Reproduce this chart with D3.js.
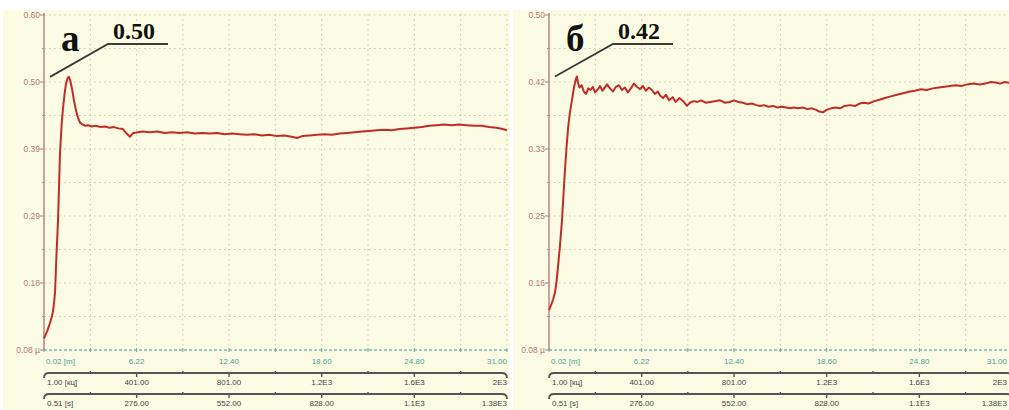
<!DOCTYPE html>
<html>
<head>
<meta charset="utf-8">
<script src="https://cdn.jsdelivr.net/npm/d3@7"></script>
<style>
  html, body { margin: 0; padding: 0; background: #fff; overflow: hidden; }
</style>
</head>
<body>
<svg id="chart" width="1009" height="410"></svg>
<script>
// Friction coefficient versus sliding distance for two specimens (а, б)

// specimen а: distance [m] and friction coefficient
const distA = [0.02, 0.09, 0.25, 0.42, 0.55, 0.62, 0.70, 0.76, 0.85, 0.96, 1.09, 1.20, 1.29, 1.40, 1.49, 1.60, 1.69, 1.78, 1.89, 2.02, 2.16, 2.30, 2.43, 2.60, 2.80, 2.96, 3.2, 3.5, 3.8, 4.1, 4.4, 4.7, 5.0, 5.3, 5.55, 5.77, 6.0, 6.3, 6.6, 7.1, 7.6, 8.1, 8.6, 9.1, 9.6, 10.1, 10.6, 11.1, 11.6, 12.1, 12.6, 13.1, 13.6, 14.1, 14.6, 15.1, 15.6, 16.1, 16.6, 16.95, 17.3, 17.8, 18.3, 18.8, 19.3, 19.8, 20.3, 20.8, 21.3, 21.8, 22.3, 22.8, 23.3, 23.8, 24.3, 24.8, 25.3, 25.8, 26.3, 26.8, 27.3, 27.8, 28.3, 28.8, 29.3, 29.8, 30.3, 30.7, 31.0];
const muA = [0.098, 0.102, 0.110, 0.122, 0.132, 0.140, 0.155, 0.170, 0.225, 0.282, 0.385, 0.430, 0.455, 0.478, 0.493, 0.502, 0.504, 0.498, 0.486, 0.468, 0.452, 0.440, 0.433, 0.430, 0.428, 0.429, 0.427, 0.428, 0.426, 0.427, 0.425, 0.426, 0.424, 0.423, 0.416, 0.411, 0.417, 0.418, 0.419, 0.418, 0.419, 0.417, 0.418, 0.417, 0.418, 0.416, 0.417, 0.416, 0.417, 0.415, 0.416, 0.415, 0.414, 0.415, 0.413, 0.414, 0.412, 0.413, 0.411, 0.409, 0.412, 0.413, 0.414, 0.415, 0.414, 0.416, 0.417, 0.418, 0.419, 0.420, 0.421, 0.422, 0.421, 0.423, 0.424, 0.425, 0.426, 0.428, 0.429, 0.430, 0.429, 0.430, 0.429, 0.428, 0.428, 0.426, 0.425, 0.423, 0.421];

// specimen б
const distB = [0.02, 0.15, 0.29, 0.42, 0.52, 0.62, 0.75, 0.89, 0.99, 1.09, 1.19, 1.29, 1.42, 1.56, 1.70, 1.82, 1.89, 1.96, 2.05, 2.2, 2.35, 2.5, 2.65, 2.8, 2.95, 3.1, 3.3, 3.43, 3.6, 3.75, 3.9, 4.1, 4.3, 4.5, 4.7, 4.9, 5.1, 5.3, 5.5, 5.7, 5.9, 6.11, 6.3, 6.5, 6.7, 6.9, 7.1, 7.3, 7.45, 7.65, 7.85, 8.05, 8.3, 8.5, 8.75, 9.0, 9.25, 9.45, 9.7, 9.95, 10.2, 10.5, 10.8, 11.1, 11.46, 11.8, 12.1, 12.4, 12.7, 13.0, 13.3, 13.6, 13.9, 14.14, 14.4, 14.7, 15.0, 15.3, 15.6, 15.9, 16.15, 16.4, 16.7, 17.0, 17.3, 17.6, 17.9, 18.1, 18.35, 18.6, 18.9, 19.2, 19.5, 19.8, 20.16, 20.5, 20.8, 21.1, 21.4, 21.8, 22.17, 22.5, 22.9, 23.3, 23.7, 24.17, 24.5, 24.9, 25.3, 25.7, 26.1, 26.5, 26.85, 27.2, 27.6, 28.0, 28.4, 28.86, 29.2, 29.6, 30.0, 30.2, 30.5, 30.8, 31.0];
const muB = [0.130, 0.136, 0.143, 0.152, 0.165, 0.184, 0.210, 0.243, 0.275, 0.306, 0.333, 0.357, 0.378, 0.394, 0.410, 0.420, 0.423,
  0.415, 0.409, 0.412, 0.404, 0.401, 0.408, 0.406, 0.410, 0.403, 0.407, 0.411, 0.405, 0.409, 0.413, 0.408, 0.404, 0.410, 0.412, 0.406, 0.409, 0.403, 0.408, 0.414, 0.410, 0.407, 0.411, 0.405, 0.409, 0.406, 0.401, 0.404,
  0.399, 0.396, 0.400, 0.393, 0.397, 0.391, 0.396, 0.392, 0.386, 0.390,
  0.392, 0.391, 0.393, 0.390, 0.391, 0.392, 0.393, 0.390, 0.391, 0.393, 0.391, 0.390, 0.388, 0.389, 0.387, 0.386, 0.387, 0.385, 0.386, 0.384, 0.385, 0.384, 0.383, 0.384, 0.383, 0.384, 0.382, 0.383, 0.381, 0.379, 0.378,
  0.381, 0.383, 0.384, 0.383, 0.386, 0.387, 0.386, 0.389, 0.390, 0.389, 0.392, 0.394, 0.396, 0.398, 0.400, 0.402, 0.404, 0.405, 0.407, 0.406, 0.408, 0.409, 0.410, 0.411, 0.412, 0.411, 0.413, 0.414, 0.413, 0.414, 0.416, 0.415, 0.414, 0.416, 0.415, 0.415];

// friction axis ranges and tick labels
const muDomainA = [0.08, 0.60];
const muDomainB = [0.08, 0.50];
const muLabelsA = ["0.08 µ", "0.18", "0.29", "0.39", "0.50", "0.60"];
const muLabelsB = ["0.08 µ", "0.16", "0.25", "0.33", "0.42", "0.50"];

// the three stacked horizontal scales: distance, laps, time
const distTicks  = [0.02, 6.22, 12.40, 18.60, 24.80, 31.00];
const distLabels = ["0.02 [m]", "6.22", "12.40", "18.60", "24.80", "31.00"];
const lapLabels  = ["1.00 [кц]", "401.00", "801.00", "1.2E3", "1.6E3", "2E3"];
const timeLabels = ["0.51 [s]", "276.00", "552.00", "828.00", "1.1E3", "1.38E3"];

const panelNames = ["а", "б"];

const SANS = "Arial, 'Liberation Sans', sans-serif";
const SERIF = "'Liberation Serif', 'Times New Roman', serif";
const W = 1009;

const svg = d3.select("#chart");

const panels = [
  { dist: distA, mu: muA, dom: muDomainA, labels: muLabelsA, name: panelNames[0],
    bg: [3, 510], x0: 44, x1: 507 },
  { dist: distB, mu: muB, dom: muDomainB, labels: muLabelsB, name: panelNames[1],
    bg: [513, 1009], x0: 549, x1: 1012 }
];

const yTop = 15, yBot = 350;

panels.forEach(p => {
  const g = svg.append("g");

  g.append("rect")
    .attr("x", p.bg[0]).attr("y", 10)
    .attr("width", p.bg[1] - p.bg[0]).attr("height", 400)
    .attr("fill", "#fcfce4");

  const x = d3.scaleLinear().domain([distTicks[0], distTicks[distTicks.length - 1]]).range([p.x0, p.x1]);
  const y = d3.scaleLinear().domain(p.dom).range([yBot, yTop]);

  const nY = p.labels.length - 1;
  const yStep = (p.dom[1] - p.dom[0]) / nY;
  const yMajor = d3.range(nY + 1).map(i => p.dom[0] + i * yStep);
  const yGrid = d3.range(2 * nY + 1).map(i => p.dom[0] + i * yStep / 2);
  const xGrid = d3.range(2 * (distTicks.length - 1) + 1).map(i => {
    const a = distTicks[Math.floor(i / 2)];
    const b = distTicks[Math.min(Math.ceil(i / 2), distTicks.length - 1)];
    return (a + b) / 2;
  });

  // dotted grid
  g.append("g").selectAll("line").data(yGrid.slice(1)).join("line")
    .attr("x1", p.x0).attr("x2", p.x1)
    .attr("y1", d => y(d)).attr("y2", d => y(d))
    .attr("stroke", "#c9cbb6").attr("stroke-width", 1.1).attr("stroke-dasharray", "1.6,3.4");
  g.append("g").selectAll("line").data(xGrid.slice(1)).join("line")
    .attr("x1", d => x(d)).attr("x2", d => x(d))
    .attr("y1", yTop - 1).attr("y2", yBot)
    .attr("stroke", "#c9cbb6").attr("stroke-width", 1.1).attr("stroke-dasharray", "1.6,3.4");

  // friction axis
  g.append("line")
    .attr("x1", p.x0).attr("x2", p.x0).attr("y1", yTop - 2).attr("y2", yBot)
    .attr("stroke", "#bf8c8c").attr("stroke-width", 1.6);
  g.append("g").selectAll("line").data(yGrid).join("line")
    .attr("x1", (d, i) => p.x0 - (i % 2 ? 2 : 4)).attr("x2", p.x0)
    .attr("y1", d => y(d)).attr("y2", d => y(d))
    .attr("stroke", "#bf8c8c").attr("stroke-width", 1.2);
  g.append("g").selectAll("text").data(yMajor).join("text")
    .attr("x", p.x0 - 4).attr("y", d => y(d) + 3)
    .attr("text-anchor", "end").attr("font-size", 8.5).attr("fill", "#b57a78")
    .attr("font-family", SANS)
    .text((d, i) => p.labels[i]);

  // distance axis
  g.append("line")
    .attr("x1", p.x0).attr("x2", p.x1).attr("y1", yBot).attr("y2", yBot)
    .attr("stroke", "#7fb8ae").attr("stroke-width", 1.3).attr("stroke-dasharray", "3,2");
  g.append("g").selectAll("line").data(xGrid).join("line")
    .attr("x1", d => x(d)).attr("x2", d => x(d))
    .attr("y1", yBot - 2).attr("y2", yBot + 2)
    .attr("stroke", "#6aa89e").attr("stroke-width", 1);

  const last = distTicks.length - 1;
  const anchorFor = i => i === 0 ? "start" : (i === last ? "end" : "middle");
  const labelX = (d, i) => i === 0 ? x(d) + 2 : (i === last ? Math.min(x(d), W - 2) : x(d));

  g.append("g").selectAll("text").data(distTicks).join("text")
    .attr("x", labelX).attr("y", yBot + 14)
    .attr("text-anchor", (d, i) => anchorFor(i))
    .attr("font-size", 8).attr("fill", "#4f9e93").attr("font-family", SANS)
    .text((d, i) => distLabels[i]);

  // laps and time scales share the distance tick positions
  [[lapLabels, 373], [timeLabels, 394]].forEach(([labels, ly]) => {
    const a = g.append("g");
    a.append("path")
      .attr("d", `M${p.x0},${ly + 5} Q${p.x0},${ly} ${p.x0 + 5},${ly} L${p.x1 - 5},${ly} Q${p.x1},${ly} ${p.x1},${ly + 5}`)
      .attr("fill", "none").attr("stroke", "#555").attr("stroke-width", 1.8);
    a.selectAll("line").data(xGrid.slice(1, -1)).join("line")
      .attr("x1", d => x(d)).attr("x2", d => x(d))
      .attr("y1", (d, i) => i % 2 ? ly : ly - 2)
      .attr("y2", (d, i) => i % 2 ? ly + 4 : ly)
      .attr("stroke", "#555").attr("stroke-width", 1.4);
    a.selectAll("text").data(distTicks).join("text")
      .attr("x", (d, i) => labelX(d, i) + (i === 0 ? 1 : 0)).attr("y", ly + 12)
      .attr("text-anchor", (d, i) => anchorFor(i))
      .attr("font-size", 8).attr("fill", "#444").attr("font-family", SANS)
      .text((d, i) => labels[i]);
  });

  // friction curve
  const pts = p.dist.map((d, i) => [d, p.mu[i]]);
  g.append("path").datum(pts)
    .attr("fill", "none").attr("stroke", "#c22c26").attr("stroke-width", 2)
    .attr("stroke-linejoin", "round")
    .attr("d", d3.line().x(d => x(d[0])).y(d => y(d[1])));

  // peak call-out
  const peak = d3.max(p.mu);
  const py = y(peak);
  const sx = p.x0 + 6;
  const kx = p.x0 + 64;
  const ky = 44;
  g.append("path")
    .attr("d", `M${sx},${py} L${kx},${ky} L${kx + 60},${ky}`)
    .attr("fill", "none").attr("stroke", "#3a3a3a").attr("stroke-width", 1.8);
  g.append("text")
    .attr("x", kx + 5).attr("y", ky - 5)
    .attr("font-family", SERIF)
    .attr("font-weight", "bold").attr("font-size", 24).attr("fill", "#111")
    .text(d3.format(".2f")(peak));
  g.append("text")
    .attr("x", p.x0 + 17).attr("y", 51)
    .attr("font-family", SERIF)
    .attr("font-weight", "bold").attr("font-size", 37).attr("fill", "#111")
    .text(p.name);
});
</script>
</body>
</html>
